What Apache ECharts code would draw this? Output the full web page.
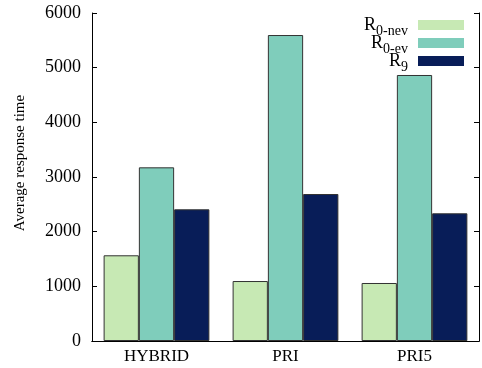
<!DOCTYPE html>
<html><head><meta charset="utf-8">
<script src="https://cdn.jsdelivr.net/npm/echarts@6/dist/echarts.min.js"></script>
<style>html,body{margin:0;padding:0;background:#fff}#c{width:482px;height:368px}</style>
</head><body><div id="c"></div>
<script>
var categories = ['HYBRID', 'PRI', 'PRI5'];
var seriesNames = ['R0-nev', 'R0-ev', 'R9'];
var r0nev = [1568, 1097, 1061];
var r0ev = [3177, 5597, 4866];
var r9 = [2409, 2689, 2336];
var yTicks = [0, 1000, 2000, 3000, 4000, 5000, 6000];
var colors = ['#c7e9b4', '#7fcdbb', '#081d58'];
var F = 'Liberation Serif';
var legendLabels = {'R0-nev': '{b|R}{s|0-nev}', 'R0-ev': '{b|R}{s|0-ev}', 'R9': '{b|R}{s|9}'};
var chart = echarts.init(document.getElementById('c'));
var vals = [r0nev, r0ev, r9];
chart.setOption({
  animation: false,
  grid: {left: 92, right: 3, top: 13, bottom: 27},
  legend: {
    orient: 'vertical', right: 13, top: 11, align: 'right',
    itemWidth: 46, itemHeight: 10, itemGap: -4,
    icon: 'rect',
    itemStyle: {borderWidth: 0},
    data: seriesNames,
    formatter: function (n) { return legendLabels[n]; },
    textStyle: {fontFamily: F, color: '#000', padding: [0, 5, 0, 0],
      rich: {b: {fontFamily: F, fontSize: 18, color: '#000'}, s: {fontFamily: F, fontSize: 14, color: '#000', padding: [12, 0, 0, 0]}}}
  },
  graphic: [{type: 'text', x: 20, y: 163, rotation: Math.PI / 2,
    style: {text: 'Average response time', font: '15px "Liberation Serif"', fill: '#000', textAlign: 'center', textVerticalAlign: 'middle'}}],
  xAxis: [
    {type: 'category', data: categories, position: 'bottom',
     axisLine: {lineStyle: {color: '#000', width: 1}},
     axisTick: {inside: true, alignWithLabel: true, length: 5, lineStyle: {color: '#000'}},
     axisLabel: {fontFamily: F, fontSize: 17, color: '#000', margin: 7}},
    {type: 'category', data: categories, position: 'top',
     axisLine: {lineStyle: {color: '#000', width: 1}},
     axisTick: {inside: true, alignWithLabel: true, length: 5, lineStyle: {color: '#000'}},
     axisLabel: {show: false}}
  ],
  yAxis: [
    {type: 'value', min: 0, max: 6000, interval: 1000, position: 'left',
     axisLine: {show: true, lineStyle: {color: '#000', width: 1}},
     axisTick: {show: true, inside: true, length: 5, lineStyle: {color: '#000'}},
     splitLine: {show: false},
     axisLabel: {fontFamily: F, fontSize: 18, color: '#000', margin: 11,
       formatter: function (v) { return yTicks.indexOf(v) >= 0 ? String(v) : ''; }}},
    {type: 'value', min: 0, max: 6000, interval: 1000, position: 'right',
     axisLine: {show: true, lineStyle: {color: '#000', width: 1}},
     axisTick: {show: true, inside: true, length: 5, lineStyle: {color: '#000'}},
     splitLine: {show: false}, axisLabel: {show: false}}
  ],
  series: seriesNames.map(function (n, i) {
    return {name: n, type: 'bar', data: vals[i], barGap: '0%', barCategoryGap: '18%',
      itemStyle: {color: colors[i], borderColor: '#333', borderWidth: 1}};
  })
});
</script></body></html>
